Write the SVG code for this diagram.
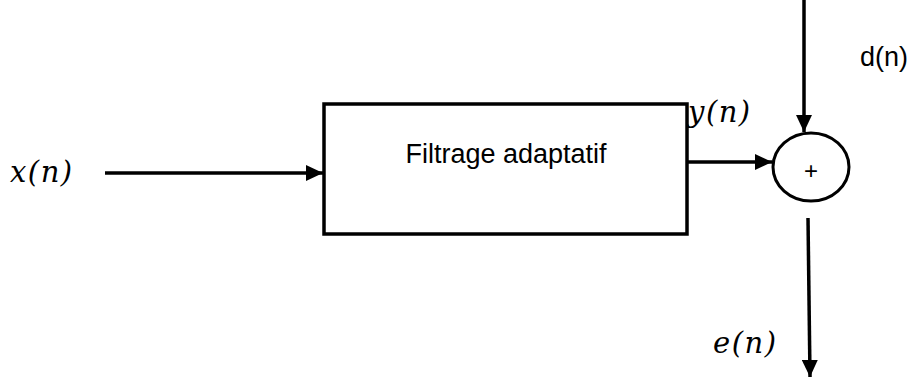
<svg xmlns="http://www.w3.org/2000/svg" width="915" height="379" viewBox="0 0 915 379">
  <defs>
    <marker id="arrow" viewBox="0 0 17 16" markerWidth="17" markerHeight="16" refX="17" refY="8" markerUnits="userSpaceOnUse" orient="auto">
      <path d="M0,0 L17,8 L0,16 z" fill="#000"/>
    </marker>
    <style>
      .line { stroke: #000; stroke-width: 3.5; fill: none; }
      .box { stroke: #000; stroke-width: 3.5; fill: #fff; }
      .sans { font-family: "Liberation Sans", Arial, sans-serif; fill: #000; }
      .math { font-family: "DejaVu Serif", "Liberation Serif", serif; font-style: italic; fill: #000; letter-spacing: 1.5px; }
    </style>
  </defs>
  <rect width="915" height="379" fill="#fff"/>

  <g id="connectors">
    <line class="line" x1="105" y1="173" x2="323" y2="173" marker-end="url(#arrow)"/>
    <line class="line" x1="688" y1="162" x2="772" y2="162" marker-end="url(#arrow)"/>
    <line class="line" x1="804" y1="0" x2="804" y2="132" marker-end="url(#arrow)"/>
    <line class="line" x1="808" y1="218" x2="810" y2="377" marker-end="url(#arrow)"/>
  </g>

  <g id="filter">
    <rect class="box" x="324" y="104" width="363" height="130"/>
    <text class="sans" x="506" y="163" font-size="27" text-anchor="middle">Filtrage adaptatif</text>
  </g>

  <g id="sum">
    <ellipse cx="811" cy="167" rx="38" ry="34" fill="#fff" stroke="#000" stroke-width="3"/>
    <text class="sans" x="811" y="179" font-size="24" text-anchor="middle">+</text>
  </g>

  <g id="label-x">
    <text class="math" x="10" y="182" font-size="29">x(n)</text>
  </g>
  <g id="label-y">
    <text class="math" x="688" y="122" font-size="29">y(n)</text>
  </g>
  <g id="label-d">
    <text class="sans" x="860" y="66" font-size="27">d(n)</text>
  </g>
  <g id="label-e">
    <text class="math" x="713" y="353" font-size="29">e(n)</text>
  </g>
</svg>
